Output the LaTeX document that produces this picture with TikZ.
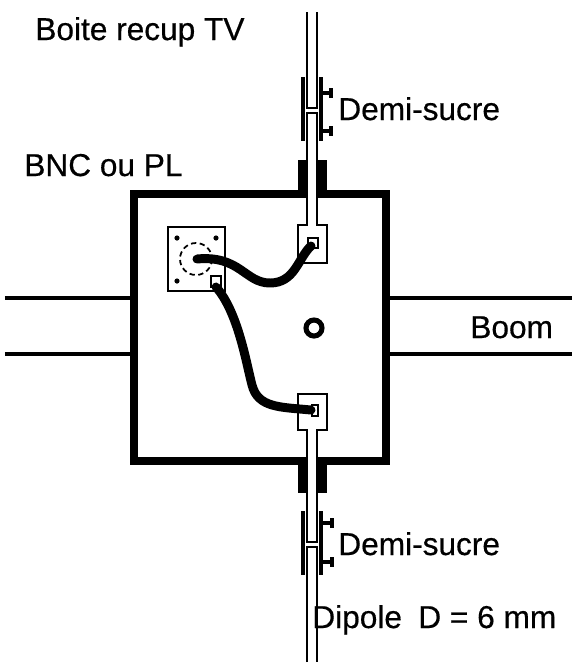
\documentclass[tikz,border=0pt]{standalone}
\usepackage{fontspec}
\newfontfamily\labelfont[RawFeature={embolden=0.5}]{Liberation Sans}
\begin{document}
\begin{tikzpicture}[x=0.02cm,y=-0.02cm]
		% Define styles for the box, the tube, the wires and the labels
		\tikzset{
			casing/.style={line width=4.5pt, line cap=butt},
			tube/.style={line width=1pt, fill=white, line join=miter},
			plate/.style={line width=1.8pt},
			screw/.style={line width=1.8pt},
			wire/.style={line width=5.1pt, line cap=round},
			boomline/.style={line width=2pt},
			txt/.style={anchor=base west, inner sep=0pt, font=\labelfont\fontsize{18}{20}\selectfont}
		}
		\useasboundingbox (0,0) rectangle (572,664);
		
		% Draw the boom on both sides of the box
		\draw[boomline] (5,298) -- (133,298);
		\draw[boomline] (5,354) -- (133,354);
		\draw[boomline] (386,298) -- (572,298);
		\draw[boomline] (386,354) -- (572,354);
		
		% Draw the box and the two collars
		\draw[casing] (134,194) rectangle (386,461);
		\fill (298,160) rectangle (327,198);
		\fill (298,457) rectangle (327,493);
		
		% Draw the upper half of the dipole
		\draw[tube] (298,263) -- (298,225) -- (307,225) -- (307,113) -- (317,113) -- (317,225) -- (327,225) -- (327,263) -- cycle;
		\draw[line width=1pt] (307,12) -- (307,108) -- (317,108) -- (317,12);
		
		% Draw the lower half of the dipole
		\draw[tube] (298,394) -- (327,394) -- (327,430) -- (317,430) -- (317,542) -- (307,542) -- (307,430) -- (298,430) -- cycle;
		\draw[line width=1pt] (307,662) -- (307,547) -- (317,547) -- (317,662);
		
		% Draw the capacitor plates and the screws, top
		\draw[plate] (303,77) -- (303,141);
		\draw[plate] (321,77) -- (321,141);
		\draw[screw] (321,93) -- (331,93) (331,88) -- (331,98);
		\draw[screw] (321,131) -- (331,131) (331,126) -- (331,136);
		
		% Draw the capacitor plates and the screws, bottom
		\draw[plate] (303,511) -- (303,575);
		\draw[plate] (321,511) -- (321,575);
		\draw[screw] (321,523) -- (332,523) (332,518) -- (332,528);
		\draw[screw] (321,562) -- (332,562) (332,557) -- (332,567);
		
		% Draw the BNC socket
		\draw[line width=1.1pt] (168,227) rectangle (225,291);
		\draw[line width=1pt, densely dashed] (196,259) circle (16);
		\fill (177,238) circle (2.6);
		\fill (216,238) circle (2.6);
		\fill (177,281) circle (2.6);
		
		% Draw the solder tags
		\draw[line width=1.1pt] (211,276) rectangle (221,287);
		\draw[line width=1.1pt] (308,238) rectangle (318,248);
		\draw[line width=1.1pt] (312,405) rectangle (318,416);
		
		% Draw the wires
		\coordinate (bnccore) at (197,259);
		\coordinate (bnctag) at (216,287);
		\coordinate (toptag) at (311,246);
		\coordinate (bottag) at (311,410);
		\draw[wire] (bnccore) .. controls (240,255) and (245,283) .. (270,283) .. controls (295,283) and (298,258) .. (toptag);
		\draw[wire] (bnctag) .. controls (238,312) and (246,362) .. (252,385) .. controls (258,408) and (280,407) .. (bottag);
		
		% Draw the centre hole
		\draw[line width=2.9pt] (314,328) circle (8);
		
		% Add labels
		\node[txt] (title) at (35,40) {Boite recup TV};
		\node[txt] (topcap) at (338,120) {Demi-sucre};
		\node[txt] (socket) at (24,176) {BNC ou PL};
		\node[txt] (boom) at (470,338) {Boom};
		\node[txt] (botcap) at (338,555) {Demi-sucre};
		\node[txt] (dipole) at (312,628) {Dipole};
		\node[txt] (diam) at (418,628) {D = 6 mm};
	\end{tikzpicture}
\end{document}
